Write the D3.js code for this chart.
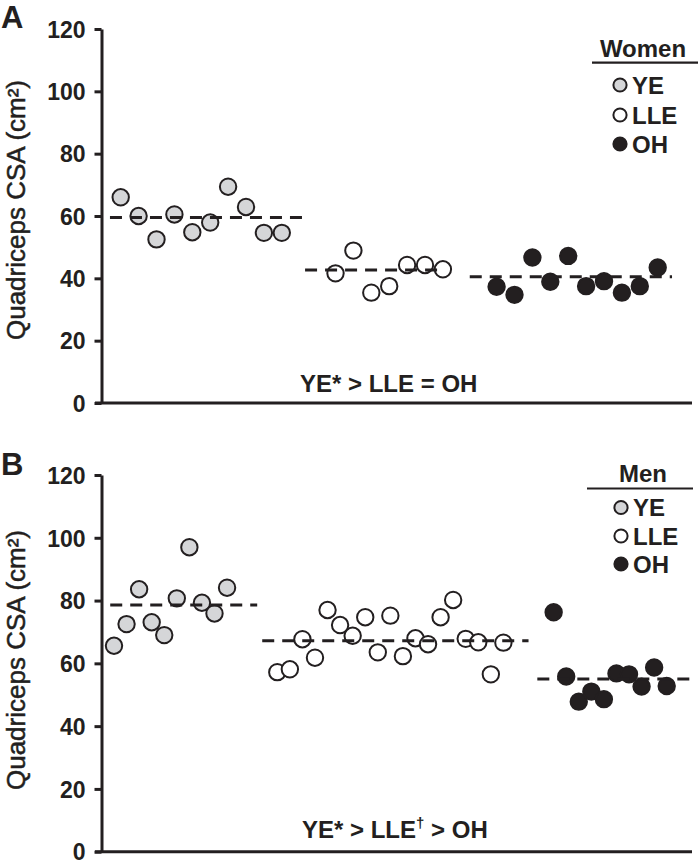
<!DOCTYPE html>
<html>
<head>
<meta charset="utf-8">
<script src="https://cdn.jsdelivr.net/npm/d3@7"></script>
<style>
  html, body { margin: 0; padding: 0; background: #fff; }
  svg { display: block; }
  text { font-family: "Liberation Sans", Arial, sans-serif; fill: #231f20; }
</style>
</head>
<body>
<svg id="chart" width="698" height="868"></svg>
<script>
// ---------------- DATA ----------------
const groups = ["YE", "LLE", "OH"];
const yTicks = [0, 20, 40, 60, 80, 100, 120];

// Panel A — Women
const womenYE  = [66.0, 60.0, 52.5, 60.5, 54.8, 57.9, 69.4, 62.9, 54.6, 54.6];
const womenLLE = [41.6, 48.9, 35.4, 37.5, 44.3, 44.3, 42.9];
const womenOH  = [37.3, 34.7, 46.7, 38.9, 47.2, 37.5, 39.1, 35.4, 37.5, 43.5];
const womenMeans = [59.5, 42.7, 40.5];

// Panel B — Men
const menYE  = [65.6, 72.5, 83.6, 73.1, 69.0, 80.7, 97.0, 79.3, 75.9, 84.1];
const menLLE = [57.2, 58.1, 67.7, 61.8, 77.0, 72.2, 68.8, 74.7, 63.5, 75.2,
                62.3, 68.0, 66.1, 74.7, 80.2, 67.8, 66.7, 56.5, 66.6];
const menOH  = [76.3, 55.8, 47.8, 51.0, 48.6, 56.8, 56.5, 52.6, 58.7, 52.8];
const menMeans = [78.6, 67.2, 55.0];

// ---------------- LAYOUT ----------------
const ink = "#231f20";
const fills = { YE: "#d5d6d8", LLE: "#ffffff", OH: "#231f20" };

const panels = [
  {
    letter: "A", legendTitle: "Women", stat: ["YE* > LLE = OH"],
    series: [womenYE, womenLLE, womenOH], means: womenMeans,
    yRange: [403, 29], titleY: 210,
    slotStart: [0, 12, 21], lineExt: [[-0.6, 10.3], [10.3, 18.1], [19.5, 30.8]],
    xDomain: [0, 30], xRange: [120.7, 657.7],
    legendY: 57, legendItems: [85, 115, 144], legendLine: [592, 698, 62.7],
    legendCx: 643, markX: 620, statX: 300, statY: 392, letterY: 28
  },
  {
    letter: "B", legendTitle: "Men", stat: null,
    series: [menYE, menLLE, menOH], means: menMeans,
    yRange: [851.7, 475], titleY: 660,
    slotStart: [0, 13, 35], lineExt: [[-0.3, 11.4], [11.8, 33.0], [33.7, 46]],
    xDomain: [0, 44], xRange: [114, 666.7],
    legendY: 482, legendItems: [507.5, 536, 564], legendLine: [587, 693, 488.5],
    legendCx: 643, markX: 621, statX: 302, statY: 838, letterY: 475
  }
];

const svg = d3.select("#chart");

panels.forEach(p => {
  const g = svg.append("g");
  const y = d3.scaleLinear().domain([0, 120]).range(p.yRange);
  const x = d3.scaleLinear().domain(p.xDomain).range(p.xRange);
  const axisX = 101.5;
  const baseY = p.yRange[0];

  // Y axis
  const yAxis = d3.axisLeft(y).tickValues(yTicks).tickSize(7).tickSizeOuter(0).tickPadding(9);
  const ag = g.append("g").attr("transform", `translate(${axisX},0)`).call(yAxis);
  ag.select(".domain").attr("stroke", ink).attr("stroke-width", 3);
  ag.selectAll(".tick line").attr("stroke", ink).attr("stroke-width", 3);
  ag.selectAll(".tick text")
    .attr("font-family", "Liberation Sans, Arial, sans-serif")
    .attr("font-weight", "bold").attr("font-size", 23).attr("fill", ink)
    .attr("dy", "0.36em");

  // X axis line
  g.append("line")
    .attr("x1", 95).attr("x2", 692).attr("y1", baseY).attr("y2", baseY)
    .attr("stroke", ink).attr("stroke-width", 3);

  // Y title
  g.append("text")
    .attr("transform", `translate(25,${p.titleY}) rotate(-90)`)
    .attr("text-anchor", "middle").attr("font-size", 26)
    .attr("stroke", ink).attr("stroke-width", 0.5)
    .text("Quadriceps CSA (cm²)");

  // Panel letter
  g.append("text").attr("x", 1).attr("y", p.letterY)
    .attr("font-size", 31).attr("font-weight", "bold").text(p.letter);

  // Points
  p.series.forEach((vals, gi) => {
    g.append("g").selectAll("circle").data(vals).join("circle")
      .attr("cx", (d, i) => x(p.slotStart[gi] + i))
      .attr("cy", d => y(d))
      .attr("r", 8.2)
      .attr("fill", fills[groups[gi]])
      .attr("stroke", ink).attr("stroke-width", 2);
  });

  // Mean dashed lines (on top)
  p.means.forEach((m, gi) => {
    g.append("line")
      .attr("x1", x(p.lineExt[gi][0])).attr("x2", x(p.lineExt[gi][1]))
      .attr("y1", y(m)).attr("y2", y(m))
      .attr("stroke", ink).attr("stroke-width", 3)
      .attr("stroke-dasharray", "12,8");
  });

  // Legend
  g.append("text").attr("x", p.legendCx).attr("y", p.legendY)
    .attr("text-anchor", "middle").attr("font-size", 24).attr("font-weight", "bold")
    .text(p.legendTitle);
  g.append("line")
    .attr("x1", p.legendLine[0]).attr("x2", p.legendLine[1])
    .attr("y1", p.legendLine[2]).attr("y2", p.legendLine[2])
    .attr("stroke", ink).attr("stroke-width", 2.2);
  groups.forEach((gr, i) => {
    g.append("circle").attr("cx", p.markX).attr("cy", p.legendItems[i])
      .attr("r", 6.6).attr("fill", fills[gr]).attr("stroke", ink).attr("stroke-width", 2);
    g.append("text").attr("x", p.markX + 12).attr("y", p.legendItems[i])
      .attr("dy", "0.36em").attr("font-size", 24).attr("font-weight", "bold").text(gr);
  });

  // Statistics text
  const st = g.append("text").attr("x", p.statX).attr("y", p.statY)
    .attr("font-size", 24).attr("font-weight", "bold");
  if (p.stat) {
    st.text(p.stat[0]);
  } else {
    st.append("tspan").text("YE* > LLE");
    st.append("tspan").attr("font-size", 15).attr("dy", -10).text("†");
    st.append("tspan").attr("dy", 10).text(" > OH");
  }
});
</script>
</body>
</html>
